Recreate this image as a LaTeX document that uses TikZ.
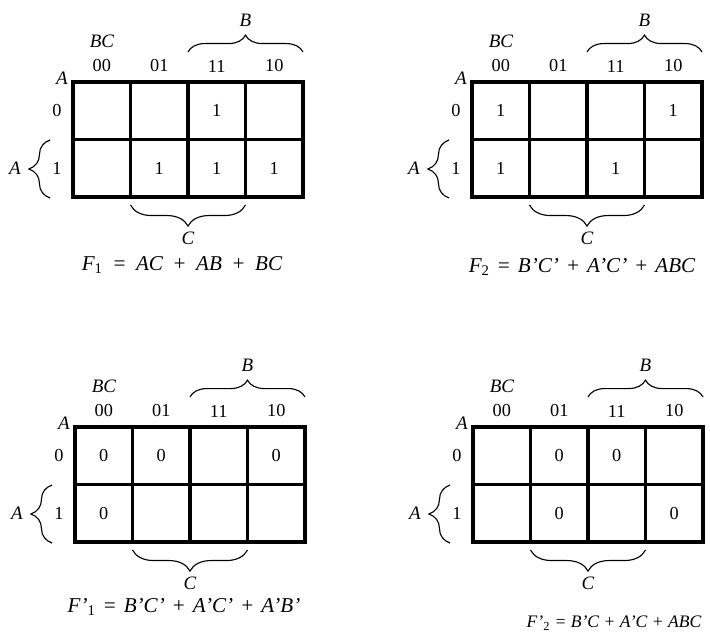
\documentclass[tikz,border=0pt]{standalone}
\usepackage{fontspec}
\setmainfont{Liberation Serif}
\usetikzlibrary{decorations.pathreplacing}
\newcommand{\eqgap}{\hspace{0.45em}}
\newcommand{\eqgapn}{\hspace{0.33em}}

\begin{document}
\begin{tikzpicture}[x=0.025cm, y=0.025cm,
    lbl/.style={font=\fontsize{13.5}{15}\selectfont\itshape, inner sep=0pt},
    dig/.style={font=\fontsize{13}{15}\selectfont, inner sep=0pt},
    eqn/.style={font=\fontsize{15}{17}\selectfont\itshape, inner sep=0pt},
    outer/.style={line width=3.5pt},
    inner/.style={line width=2.8pt},
    brc/.style={decorate, decoration={brace, amplitude=#1}, line width=0.8pt}
]
\useasboundingbox (0,0) rectangle (710,633);

% the four maps: number / top-left corner / filled cells (col/row) / value
\foreach \m/\x/\y/\cells/\v in {1/73/551/{2/0,1/1,2/1,3/1}/1,
                               2/472/551/{0/0,3/0,0/1,2/1}/1,
                               3/75/206/{0/0,1/0,3/0,0/1}/0,
                               4/473/206/{1/0,2/0,1/1,3/1}/0}{
  \begin{scope}[shift={(\x,\y)}]
    % grid
    \foreach \i in {1,2,3} \draw[inner] (57.5*\i,0) -- (57.5*\i,-115);
    \draw[inner] (0,-57.5) -- (230,-57.5);
    \draw[outer] (0,0) rectangle (230,-115);
    % headers
    \node[lbl] (bc\m) at (29,41) {BC};
    \node[lbl] (a\m) at (-11,4) {A};
    \foreach \h [count=\j from 0] in {00,01,11,10}
      \node[dig] (c\m-\h) at (28.75+57.5*\j,16) {\h};
    \node[dig] (r\m-0) at (-16,-29) {0};
    \node[dig] (r\m-1) at (-16,-86) {1};
    % braces
    \draw[brc=12] (115,30) -- (230,30);
    \node[lbl] (b\m) at (172.5,62) {B};
    \draw[brc=15] (-23,-116) -- (-23,-58);
    \node[lbl] (ra\m) at (-58,-86) {A};
    \draw[brc=15] (172.5,-123) -- (57.5,-123);
    \node[lbl] (cc\m) at (115,-156) {C};
    % entries
    \foreach \c/\r in \cells
      \node[dig] (v\m-\c\r) at (28.75+57.5*\c,-28.75-57.5*\r) {\v};
  \end{scope}
}

\node[eqn] (f1) at (182,368) {F\textsubscript{\upshape 1}\eqgap=\eqgap AC\eqgap+\eqgap AB\eqgap+\eqgap BC};
\node[eqn] (f2) at (582,366) {F\textsubscript{\upshape 2}\eqgapn=\eqgapn B'C'\eqgapn+\eqgapn A'C'\eqgapn+\eqgapn ABC};
\node[eqn] (f3) at (184,26) {F'\textsubscript{\upshape 1}\eqgapn=\eqgapn B'C'\eqgapn+\eqgapn A'C'\eqgapn+\eqgapn A'B'};
\node[eqn, font=\fontsize{12.5}{14}\selectfont\itshape] (f4) at (614,10) {F'\textsubscript{\upshape 2} = B'C + A'C + ABC};
\end{tikzpicture}
\end{document}
